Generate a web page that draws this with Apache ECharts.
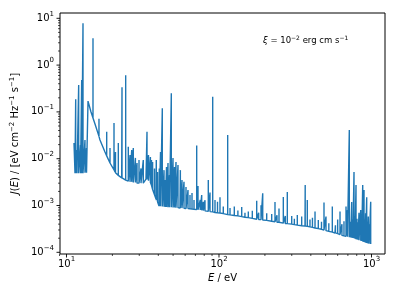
<!DOCTYPE html>
<html><head><meta charset="utf-8">
<script src="https://cdn.jsdelivr.net/npm/echarts@6/dist/echarts.min.js"></script>
<style>html,body{margin:0;padding:0;background:#fff}#c{width:399px;height:299px}</style>
</head><body><div id="c"></div>
<script>
// continuum (lower envelope) of the spectrum, E in eV, J in eV cm^-2 Hz^-1 s^-1
const contE = [11.20, 11.37, 13.77, 13.84, 14.48, 15.38, 16.58, 17.88, 19.29, 20.80, 22.43, 24.93, 28.13, 31.73, 33.21, 35.28, 36.92, 38.64, 40.43, 44.26, 55.50, 75.05, 100.0, 159.7, 251.2, 366.4, 459.0, 576.3, 722.8, 840.6, 992.5];
const contJ = [0.0217, 0.00488, 0.00500, 0.170, 0.0995, 0.0551, 0.0251, 0.0139, 0.00809, 0.00520, 0.00406, 0.00334, 0.00310, 0.00295, 0.00368, 0.00318, 0.00214, 0.00138, 0.000976, 0.000929, 0.000884, 0.000801, 0.000691, 0.000541, 0.000433, 0.000365, 0.000315, 0.000259, 0.000212, 0.000179, 0.000150];

// emission lines: energy, peak value, local continuum level under the line
const lineE = [11.49, 11.72, 12.02, 12.36, 12.58, 12.83, 13.22, 13.53,
  14.92, 16.33, 18.35, 19.29, 20.49, 20.95, 21.87, 23.01, 23.12, 24.44, 25.42, 26.09, 26.77, 27.42, 28.30, 29.00, 29.89, 30.80, 31.88,
  33.72, 34.49, 35.50, 36.09, 36.70, 37.76, 38.80, 39.52, 40.60, 41.36, 42.49, 43.60, 44.50, 45.27, 46.31, 47.37, 48.68, 49.94, 51.09, 52.24, 53.84, 55.80, 57.20, 58.95, 60.76, 62.62, 64.54, 66.53, 68.57, 71.41, 72.82, 75.30, 77.01, 78.89, 80.94, 85.07, 87.30, 90.93, 94.15, 97.77,
  101.5, 106.7, 114.0, 118.1, 126.0, 133.0, 140.9, 148.0, 155.7, 165.4, 176.7, 182.0, 188.6, 193.5, 205.5, 221.6, 232.9, 240.0, 247.4, 264.1, 272.0, 280.5, 299.8, 312.0, 326.2, 348.5, 367.5, 379.3, 395.0, 410.0, 426.2, 447.9, 470.0, 488.1, 503.0, 525.0, 553.4, 580.0, 600.0, 621.6, 640.0, 660.0, 680.6, 696.0, 715.3, 730.0, 741.6, 755.0, 767.8, 780.0, 791.4, 803.0, 815.6, 828.0, 850.0, 862.0, 875.8, 884.0, 893.1, 905.0, 915.0, 930.0, 941.0, 952.8, 965.0, 988.0];
const linePeak = [0.186, 0.0153, 0.376, 0.0196, 0.48, 7.8, 0.0251, 0.0169,
  3.74, 0.071, 0.0378, 0.0169, 0.058, 0.0139, 0.0217, 0.0073, 0.336, 0.605, 0.018, 0.012, 0.0153, 0.0169, 0.0104, 0.0081, 0.0094, 0.0062, 0.0094,
  0.0378, 0.0120, 0.0109, 0.0094, 0.0085, 0.0062, 0.0094, 0.0052, 0.0062, 0.0139, 0.119, 0.0057, 0.0035, 0.00665, 0.0081, 0.0045, 0.25, 0.0104, 0.00665, 0.0085, 0.0073, 0.0057, 0.0035, 0.0032, 0.0025, 0.00214, 0.00168, 0.00185, 0.00131, 0.0191, 0.0026, 0.00131, 0.00168, 0.00120, 0.00130, 0.0035, 0.0019, 0.211, 0.00131, 0.0012,
  0.0015, 0.00095, 0.0321, 0.00088, 0.00095, 0.00078, 0.00093, 0.00070, 0.00074, 0.00077, 0.00127, 0.00070, 0.00101, 0.00182, 0.00068, 0.00066, 0.00119, 0.00062, 0.00086, 0.00152, 0.00060, 0.00195, 0.00060, 0.00052, 0.00063, 0.00058, 0.00274, 0.00131, 0.00050, 0.00055, 0.00074, 0.00049, 0.00045, 0.00116, 0.00058, 0.00042, 0.00095, 0.00038, 0.00050, 0.00074, 0.00040, 0.00046, 0.00095, 0.0008, 0.041, 0.00045, 0.00119, 0.00050, 0.0052, 0.00060, 0.00274, 0.00052, 0.00044, 0.00070, 0.0008, 0.00048, 0.00274, 0.00060, 0.00214, 0.00050, 0.00068, 0.0015, 0.00045, 0.00058, 0.00040, 0.0012];
const lineBase = [0.00488, 0.0049, 0.0049, 0.0049, 0.0049, 0.0049, 0.0050, 0.0050,
  0.074, 0.030, 0.0115, 0.0081, 0.0058, 0.0050, 0.0044, 0.0039, 0.0039, 0.0035, 0.0033, 0.0032, 0.0032, 0.0031, 0.0031, 0.0030, 0.0030, 0.0030, 0.0030,
  0.0036, 0.0034, 0.0031, 0.0027, 0.0022, 0.0017, 0.0013, 0.0012, 0.00097, 0.00096, 0.00095, 0.00094, 0.00093, 0.00093, 0.00092, 0.00092, 0.00092, 0.00091, 0.00091, 0.0009, 0.0009, 0.00088, 0.00088, 0.00087, 0.00086, 0.00086, 0.00085, 0.00084, 0.00083, 0.00082, 0.00081, 0.0008, 0.00079, 0.00078, 0.00077, 0.00075, 0.00074, 0.00073, 0.00071, 0.0007,
  0.00069, 0.00067, 0.00064, 0.00063, 0.00061, 0.00060, 0.00058, 0.00056, 0.00055, 0.00053, 0.00051, 0.00050, 0.00050, 0.00049, 0.00048, 0.00046, 0.00045, 0.00044, 0.00044, 0.00042, 0.00041, 0.00041, 0.00040, 0.00039, 0.00038, 0.00037, 0.000365, 0.00036, 0.00035, 0.00034, 0.00033, 0.00032, 0.00031, 0.00030, 0.00029, 0.00028, 0.00027, 0.00026, 0.00025, 0.00024, 0.00023, 0.000225, 0.00022, 0.000215, 0.00021, 0.000207, 0.000205, 0.000202, 0.0002, 0.000195, 0.00019, 0.000187, 0.000185, 0.000182, 0.000177, 0.000174, 0.00017, 0.000168, 0.000166, 0.000163, 0.000161, 0.000158, 0.000156, 0.000154, 0.000152, 0.00015];

// axis ticks (values)
const xMajorTicks = [10, 100, 1000];
const xMinorTicks = [9, 20, 30, 40, 50, 60, 70, 80, 90, 200, 300, 400, 500, 600, 700, 800, 900];
const yMajorTicks = [1e-4, 1e-3, 1e-2, 1e-1, 1, 10];
const yMinorTicks = [2e-4,3e-4,4e-4,5e-4,6e-4,7e-4,8e-4,9e-4, 2e-3,3e-3,4e-3,5e-3,6e-3,7e-3,8e-3,9e-3, 2e-2,3e-2,4e-2,5e-2,6e-2,7e-2,8e-2,9e-2, 0.2,0.3,0.4,0.5,0.6,0.7,0.8,0.9, 2,3,4,5,6,7,8,9];

const F = 'DejaVu Sans';
const pts = [];
contE.forEach((e, i) => pts.push({ e, seq: [[e, contJ[i]]] }));
lineE.forEach((e, i) => pts.push({ e, seq: [[e, lineBase[i]], [e, linePeak[i]], [e, lineBase[i]]] }));
pts.sort((a, b) => a.e - b.e);
const spec = [];
pts.forEach(p => p.seq.forEach(q => spec.push(q)));

const xTickData = xMajorTicks.map(v => [v, 1, 1]).concat(xMinorTicks.map(v => [v, 1, 0]));
const yTickData = yMajorTicks.map(v => [10, v, 1]).concat(yMinorTicks.map(v => [10, v, 0]));

const supRich = {
  m: { fontSize: 10, fontFamily: F, color: '#000', lineHeight: 16 },
  s: { fontSize: 7, fontFamily: F, color: '#000', lineHeight: 8, verticalAlign: 'top' }
};
function powLabel(v) {
  const k = Math.round(Math.log10(v));
  return '{m|10}{s|' + (k < 0 ? '\u2212' + (-k) : k) + '}';
}

const chart = echarts.init(document.getElementById('c'), null, { renderer: 'canvas' });
chart.setOption({
  animation: false,
  grid: { left: 60, right: 14, top: 13, bottom: 45, show: true, borderColor: '#000', borderWidth: 1, backgroundColor: 'transparent', containLabel: false, outerBoundsMode: 'none' },
  xAxis: {
    type: 'log', logBase: 10, min: 9.066, max: 1226,
    axisLine: { show: false }, axisTick: { show: false }, splitLine: { show: false }, minorTick: { show: false },
    axisLabel: { margin: 2, formatter: powLabel, rich: supRich, showMinLabel: false, showMaxLabel: false },
    name: '{i|E}{n| / eV}', nameLocation: 'middle', nameGap: 18,
    nameTextStyle: { rich: { i: { fontSize: 10, fontFamily: F, fontStyle: 'italic', color: '#000', lineHeight: 13 }, n: { fontSize: 10, fontFamily: F, color: '#000', lineHeight: 13 } } }
  },
  yAxis: {
    type: 'log', logBase: 10, min: 9.2e-5, max: 12.98,
    axisLine: { show: false }, axisTick: { show: false }, splitLine: { show: false }, minorTick: { show: false },
    axisLabel: { margin: 6, formatter: powLabel, rich: supRich, showMinLabel: false, showMaxLabel: false },
    name: '{i|J}{n|(}{i|E}{n|) / [eV cm}{s|\u22122}{n| Hz}{s|\u22121}{n| s}{s|\u22121}{n|]}',
    nameLocation: 'middle', nameGap: 32,
    nameTextStyle: { rich: {
      i: { fontSize: 10, fontFamily: F, fontStyle: 'italic', color: '#000', lineHeight: 13 },
      n: { fontSize: 10, fontFamily: F, color: '#000', lineHeight: 13 },
      s: { fontSize: 7, fontFamily: F, color: '#000', lineHeight: 8, verticalAlign: 'top' } } }
  },
  graphic: [{
    type: 'text', x: 263, y: 41, z: 10,
    style: {
      text: '{i|\u03be}{n| = 10}{s|\u22122}{n| erg cm s}{s|\u22121}',
      verticalAlign: 'middle', align: 'left',
      rich: {
        i: { fontSize: 8.5, fontFamily: F, fontStyle: 'italic', fill: '#000', lineHeight: 12 },
        n: { fontSize: 8.5, fontFamily: F, fill: '#000', lineHeight: 12 },
        s: { fontSize: 6, fontFamily: F, fill: '#000', lineHeight: 7, verticalAlign: 'top' }
      }
    }
  }],
  series: [
    {
      type: 'line', data: spec, showSymbol: false, symbol: 'none', sampling: null,
      lineStyle: { color: '#1f77b4', width: 1.4 }, itemStyle: { color: '#1f77b4' }, z: 3, clip: true
    },
    {
      type: 'custom', data: xTickData, encode: { x: 0, y: 1 }, z: 5, clip: false, silent: true,
      renderItem: function (params, api) {
        const x = api.coord([api.value(0), 1])[0];
        const cs = params.coordSys;
        const y0 = cs.y + cs.height;
        const major = api.value(2) === 1;
        return { type: 'line', shape: { x1: x, y1: y0, x2: x, y2: y0 + (major ? 3.5 : 2) }, style: { stroke: '#000', lineWidth: major ? 0.9 : 0.7 } };
      }
    },
    {
      type: 'custom', data: yTickData, encode: { x: 0, y: 1 }, z: 5, clip: false, silent: true,
      renderItem: function (params, api) {
        const y = api.coord([10, api.value(1)])[1];
        const cs = params.coordSys;
        const x0 = cs.x;
        const major = api.value(2) === 1;
        return { type: 'line', shape: { x1: x0, y1: y, x2: x0 - (major ? 3.5 : 2), y2: y }, style: { stroke: '#000', lineWidth: major ? 0.9 : 0.7 } };
      }
    }
  ]
});
</script></body></html>
